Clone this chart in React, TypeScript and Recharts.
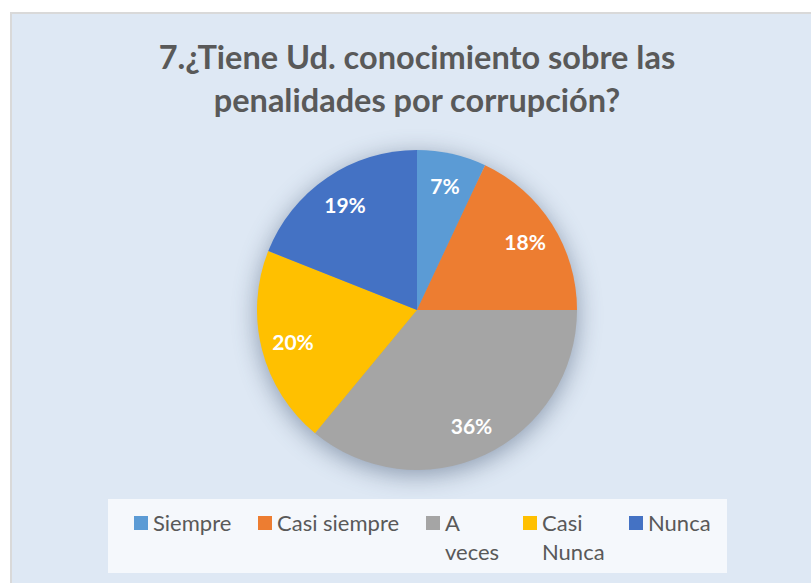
import { PieChart, Pie, Cell, Legend } from 'recharts';

const categories = ['Siempre', 'Casi siempre', 'A veces', 'Casi Nunca', 'Nunca'];
const percents = [7, 18, 36, 20, 19];
const sliceColors = ['#5B9BD5', '#ED7D31', '#A5A5A5', '#FFC000', '#4472C4'];

const titleLines = ['7.¿Tiene Ud. conocimiento sobre las', 'penalidades por corrupción?'];

const data = categories.map((name, i) => ({ name, value: percents[i] }));

// legend column widths, matching the wrapped layout of the original
const legendItemWidths = [124, 168, 97, 106, 95];

const RADIAN = Math.PI / 180;

const renderLabel = ({ cx, cy, midAngle, outerRadius, value }: any) => {
  const r = outerRadius * 0.8;
  const x = cx + r * Math.cos(-midAngle * RADIAN);
  const y = cy + r * Math.sin(-midAngle * RADIAN);
  return (
    <text
      x={x}
      y={y}
      fill="#fff"
      textAnchor="middle"
      dominantBaseline="central"
      style={{ fontFamily: 'Lato, sans-serif', fontWeight: 700, fontSize: 21 }}
    >
      {`${value}%`}
    </text>
  );
};

const LegendContent = () => (
  <div
    style={{
      background: '#f5f8fc',
      width: '100%',
      height: '100%',
      boxSizing: 'border-box',
      padding: '9px 0 0 26px',
      display: 'flex',
      alignItems: 'flex-start',
      fontFamily: 'Lato, sans-serif',
      fontSize: 22,
      lineHeight: '29px',
      color: '#595959',
    }}
  >
    {categories.map((name, i) => (
      <div key={name} style={{ display: 'flex', alignItems: 'flex-start', width: legendItemWidths[i] }}>
        <span
          style={{
            width: 14,
            height: 14,
            marginTop: 8,
            marginRight: 5,
            background: sliceColors[i],
            flexShrink: 0,
          }}
        />
        <span style={{ maxWidth: legendItemWidths[i] - 40 }}>{name}</span>
      </div>
    ))}
  </div>
);

export default function App() {
  return (
    <div style={{ position: 'relative', width: 811, height: 583, background: '#fff', overflow: 'hidden' }}>
      <style>{`body{margin:0} .recharts-pie{filter:drop-shadow(0 5px 12px rgba(40,60,90,0.45));}`}</style>
      <div
        style={{
          position: 'absolute',
          left: 10,
          top: 12,
          right: -4,
          bottom: -4,
          background: '#dee8f4',
          border: '2px solid #d9d9d9',
        }}
      />
      <div
        style={{
          position: 'absolute',
          left: 0,
          width: 834,
          top: 35,
          textAlign: 'center',
          fontFamily: 'Lato, sans-serif',
          fontWeight: 700,
          fontSize: 32.5,
          lineHeight: '43px',
          color: '#595959',
        }}
      >
        {titleLines.map((l) => (
          <div key={l}>{l}</div>
        ))}
      </div>
      <div style={{ position: 'absolute', left: 0, top: 0 }}>
        <PieChart width={811} height={583} margin={{ top: 0, right: 0, bottom: 0, left: 0 }}>
          <Pie
            data={data}
            dataKey="value"
            nameKey="name"
            cx={417}
            cy={310}
            outerRadius={160}
            startAngle={90}
            endAngle={-270}
            stroke="none"
            label={renderLabel}
            labelLine={false}
            isAnimationActive={false}
          >
            {data.map((d, i) => (
              <Cell key={d.name} fill={sliceColors[i]} />
            ))}
          </Pie>
          <Legend
            content={<LegendContent />}
            wrapperStyle={{ position: 'absolute', left: 108, top: 499, width: 619, height: 74 }}
          />
        </PieChart>
      </div>
    </div>
  );
}
